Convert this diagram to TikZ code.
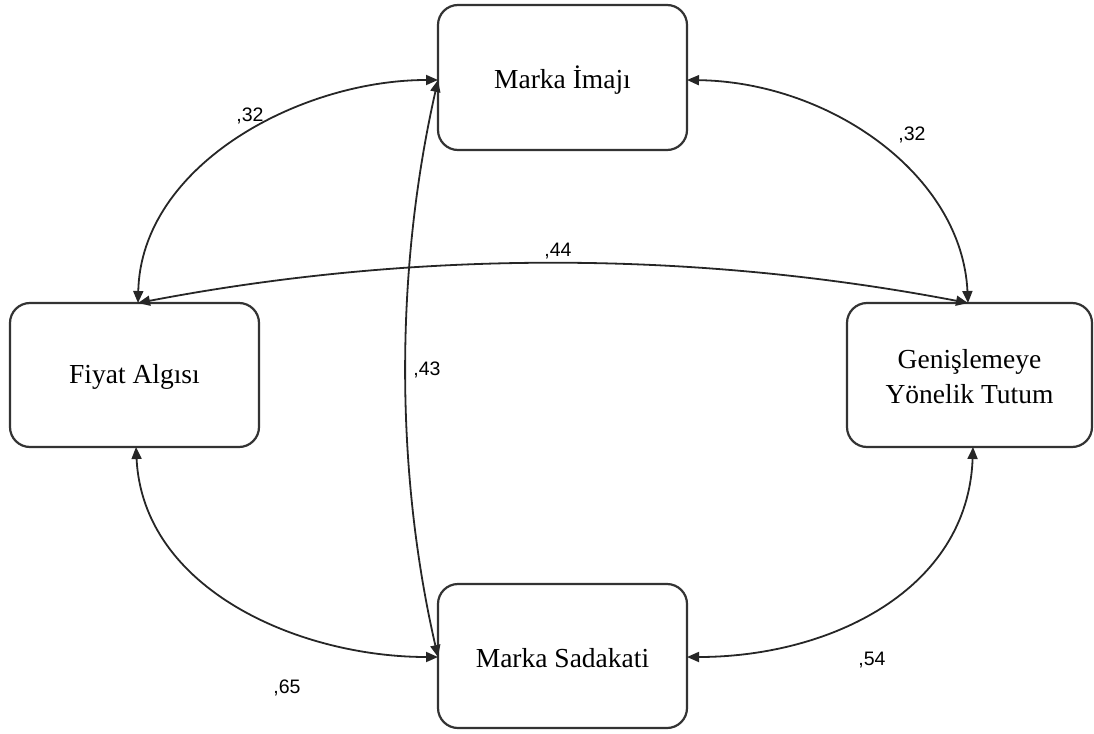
\documentclass[tikz,border=0pt]{standalone}
\usepackage{fontspec}
\setmainfont{Liberation Serif}
\newfontfamily\lblfont{Liberation Sans}
\usetikzlibrary{arrows.meta}
\begin{document}
\begin{tikzpicture}[x=1pt,y=-1pt,
  box/.style={draw=black!80, line width=2.2pt, rounded corners=20pt, fill=white},
  conn/.style={draw=black!85, line width=1.8pt, {Triangle[length=12pt,width=10pt]}-{Triangle[length=12pt,width=10pt]}},
  lbl/.style={font=\lblfont\fontsize{19.5}{22}\selectfont, inner sep=0pt},
  txt/.style={font=\fontsize{27.5}{35}\selectfont, align=center}]
\useasboundingbox (0,0) rectangle (1094,733);
% boxes
\draw[box] (438,5) rectangle (687,150);
\draw[box] (10,303) rectangle (259,447);
\draw[box] (847,303) rectangle (1092,447);
\draw[box] (438,584) rectangle (687,728);
\node[txt] (mi) at (562.5,80) {Marka İmajı};
\node[txt] (fa) at (134.5,377) {Fiyat Algısı};
\node[txt] (gy) at (969.5,377) {Genişlemeye\\Yönelik Tutum};
\node[txt] (ms) at (562.5,658) {Marka Sadakati};
% anchor coordinates
\coordinate (miL) at (438,80);
\coordinate (miR) at (687,80);
\coordinate (faT) at (138,303);
\coordinate (faB) at (136,447);
\coordinate (gyT) at (968,303);
\coordinate (gyB) at (973,447);
\coordinate (msL) at (438,657);
\coordinate (msR) at (687,657);
% connectors
\draw[conn] (faT) .. controls (141,165) and (300,80) .. (miL);
\draw[conn] (miR) .. controls (830,82) and (962,175) .. (gyT);
\draw[conn] (faT) .. controls (415,250) and (691,250) .. (gyT);
\draw[conn] (miL) .. controls (395,270) and (395,470) .. (msL);
\draw[conn] (faB) .. controls (143,590) and (300,657) .. (msL);
\draw[conn] (gyB) .. controls (968,590) and (830,657) .. (msR);
% labels
\node[lbl] (l1) at (250,116) {,32};
\node[lbl] (l2) at (912,135) {,32};
\node[lbl] (l3) at (558,251) {,44};
\node[lbl] (l4) at (427,370) {,43};
\node[lbl] (l5) at (287,688) {,65};
\node[lbl] (l6) at (872,660) {,54};
\end{tikzpicture}
\end{document}
